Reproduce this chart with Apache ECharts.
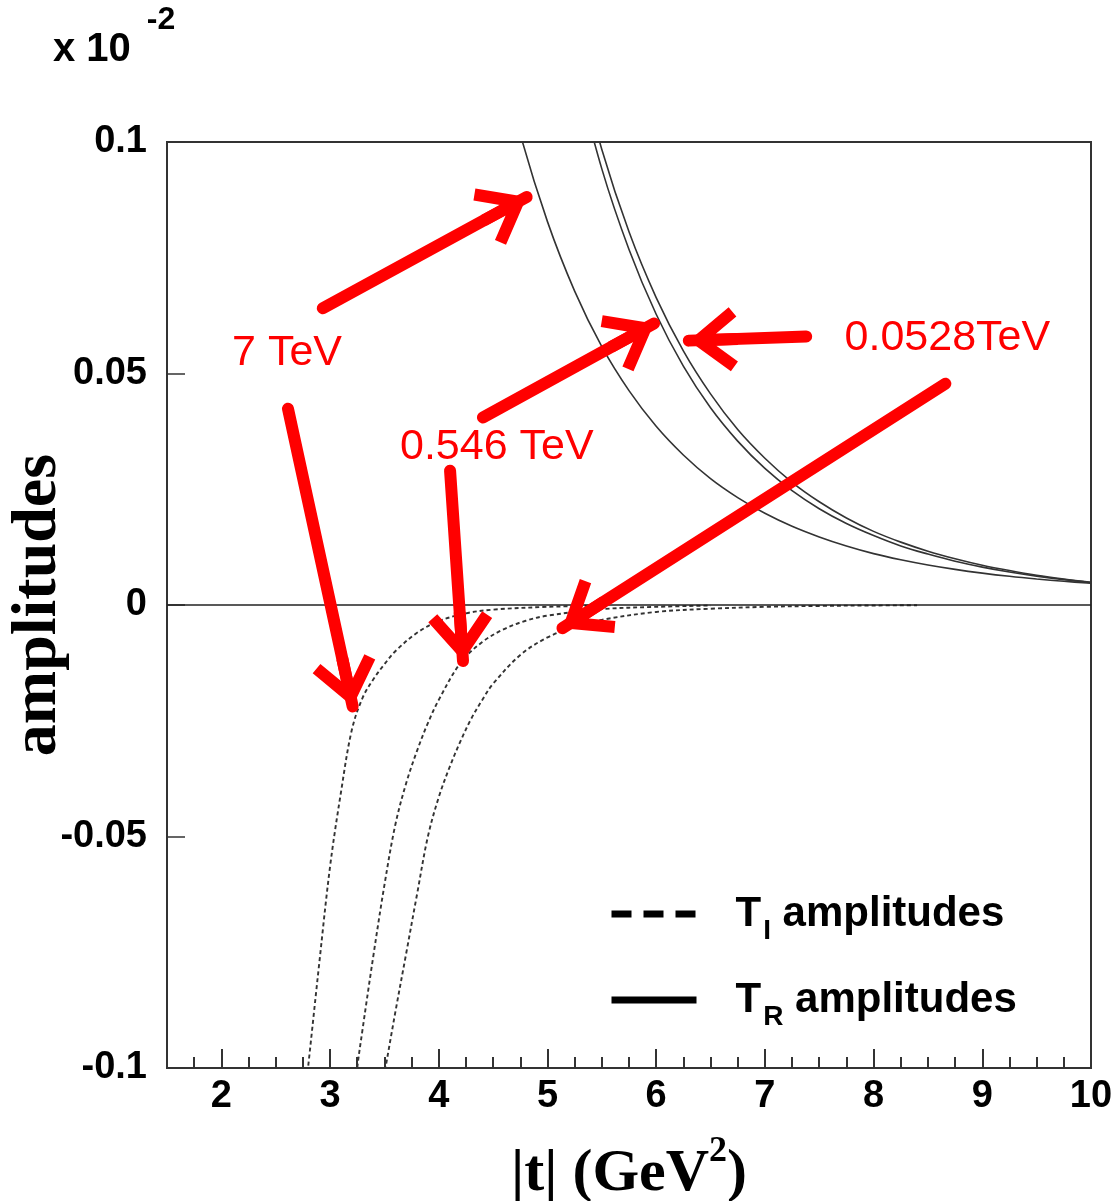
<!DOCTYPE html>
<html><head><meta charset="utf-8">
<script src="https://cdn.jsdelivr.net/npm/echarts@6/dist/echarts.min.js"></script>
<style>html,body{margin:0;padding:0;background:#fff}#c{width:1120px;height:1201px}</style>
</head><body><div id="c"></div>
<script>
// ---- tick labels ----
const xTicks = [2, 3, 4, 5, 6, 7, 8, 9, 10];
const yTicks = [-0.1, -0.05, 0, 0.05, 0.1];

// ---- T_R (real) amplitudes, solid ----
const tR7_x    = [4.5, 4.75, 5, 5.25, 5.5, 5.75, 6, 6.25, 6.5, 6.75, 7, 7.25, 7.5, 7.75, 8, 8.25, 8.5, 8.75, 9, 9.25, 9.5, 9.75, 10];
const tR7_y    = [0.1256, 0.1017, 0.0828, 0.0678, 0.0558, 0.0463, 0.0386, 0.0324, 0.0273, 0.0232, 0.0198, 0.0170, 0.0147, 0.01274, 0.0111, 0.00978, 0.00865, 0.00770, 0.00689, 0.00620, 0.00562, 0.00512, 0.00469];
const tR546_x  = [5.25, 5.5, 5.75, 6, 6.25, 6.5, 6.75, 7, 7.25, 7.5, 7.75, 8, 8.25, 8.5, 8.75, 9, 9.25, 9.5, 9.75, 10];
const tR546_y  = [0.1164, 0.0942, 0.0768, 0.0628, 0.0516, 0.0426, 0.0354, 0.0295, 0.0247, 0.0208, 0.0176, 0.0150, 0.01276, 0.0110, 0.00944, 0.00818, 0.00712, 0.00623, 0.00548, 0.00484];
const tR0528_x = [5.25, 5.5, 5.75, 6, 6.25, 6.5, 6.75, 7, 7.25, 7.5, 7.75, 8, 8.25, 8.5, 8.75, 9, 9.25, 9.5, 9.75, 10];
const tR0528_y = [0.1204, 0.0984, 0.0806, 0.0664, 0.0549, 0.0456, 0.0379, 0.0317, 0.0265, 0.0223, 0.0188, 0.0159, 0.01358, 0.01163, 0.01001, 0.0086, 0.00744, 0.00642, 0.00559, 0.00488];

// ---- T_I (imaginary) amplitudes, dashed ----
const tI7_x    = [2.75, 2.8, 2.9, 3.0, 3.1, 3.2, 3.3, 3.4, 3.5, 3.6, 3.8, 4.0, 4.25, 4.5, 5.0, 5.5];
const tI7_y    = [-0.110, -0.0994, -0.0775, -0.0565, -0.0405, -0.0270, -0.0200, -0.0160, -0.0128, -0.0100, -0.0060, -0.0035, -0.0018, -0.0010, -0.0004, -0.0001];
const tI546_x  = [3.2, 3.25, 3.3, 3.4, 3.5, 3.6, 3.7, 3.8, 3.9, 4.0, 4.2, 4.4, 4.6, 4.8, 5.0, 5.5, 6.0, 6.5];
const tI546_y  = [-0.112, -0.100, -0.0915, -0.0755, -0.0605, -0.0475, -0.0385, -0.0315, -0.0255, -0.0205, -0.0125, -0.0080, -0.0052, -0.0034, -0.0023, -0.0009, -0.0004, -0.0001];
const tI0528_x = [3.45, 3.5, 3.6, 3.7, 3.8, 3.9, 4.0, 4.1, 4.2, 4.3, 4.4, 4.5, 4.75, 5.0, 5.25, 5.5, 6.0, 6.5, 7.0, 7.5, 8.0, 8.4];
const tI0528_y = [-0.108, -0.1013, -0.088, -0.0753, -0.0625, -0.0500, -0.0415, -0.0350, -0.0294, -0.0245, -0.0205, -0.0170, -0.0108, -0.0070, -0.0047, -0.0032, -0.0015, -0.0008, -0.0004, -0.0002, -0.0001, -0.00005];

// ---- annotations (data coordinates) ----
const annLabels = ['7 TeV', '0.546 TeV', '0.0528TeV'];
const annLabelPos = [[2.604, 0.0545], [4.534, 0.0340], [8.679, 0.0576]];
const arrowFrom = [[2.933, 0.0641], [2.613, 0.0424], [4.406, 0.0405], [4.104, 0.0290], [7.38, 0.0580], [8.66, 0.0478]];
const arrowTo   = [[4.809, 0.0881], [3.208, -0.0219], [5.98, 0.0608], [4.223, -0.0121], [6.30, 0.0571], [5.138, -0.0050]];

const zip = (xs, ys) => xs.map((x, i) => [x, ys[i]]);
const minorX = [];
for (let v = 1.75; v < 10; v += 0.25) { if (Math.abs(v - Math.round(v)) > 1e-6) minorX.push(v); }

const TI = 'T_I amplitudes', TR = 'T_R amplitudes';
const solidStyle = { color: '#333', width: 1.6 };
const dashStyle = { color: '#333', width: 1.9, type: [4, 3] };
const mk = (name, xs, ys, ls) => ({
  type: 'line', name, data: zip(xs, ys), symbol: 'none', showSymbol: false,
  smooth: 0.35, lineStyle: ls, itemStyle: { color: ls.color }, z: 3
});

const chevron = 'path://M32,0 L64,41 L54.5,48.4 L38,27.3 L38,49 L26,49 L26,27.3 L9.5,48.4 L0,41 Z';

const chart = echarts.init(document.getElementById('c'));
chart.setOption({
  animation: false,
  backgroundColor: '#fff',
  textStyle: { fontFamily: 'Liberation Sans' },
  title: {
    text: '{a|x 10}{b|-2}', left: 53, top: 4, padding: 0,
    textStyle: { rich: {
      a: { fontFamily: 'Liberation Sans', fontWeight: 'bold', fontSize: 40, color: '#000' },
      b: { fontFamily: 'Liberation Sans', fontWeight: 'bold', fontSize: 32, color: '#000', padding: [0, 0, 60, 16] }
    } }
  },
  grid: { left: 167, right: 29, top: 142, bottom: 133, outerBoundsMode: 'none', containLabel: false,
    show: true, borderColor: '#333', borderWidth: 2, backgroundColor: 'transparent' },
  legend: {
    orient: 'vertical', left: 608, top: 893, padding: 0, itemWidth: 85, itemHeight: 10, itemGap: 34,
    selectedMode: false,
    data: [
      { name: TI, itemStyle: { opacity: 0 }, lineStyle: { color: '#000', width: 7, type: [20, 12] } },
      { name: TR, itemStyle: { opacity: 0 }, lineStyle: { color: '#000', width: 7, type: 'solid' } }
    ],
    formatter: n => n === TI ? '{g|}{t|T}{s|I}{t| amplitudes}' : '{g|}{t|T}{s|R}{t| amplitudes}',
    textStyle: { rich: {
      g: { width: 34 },
      t: { fontFamily: 'Liberation Sans', fontWeight: 'bold', fontSize: 42, color: '#000' },
      s: { fontFamily: 'Liberation Sans', fontWeight: 'bold', fontSize: 28, color: '#000', padding: [34, 0, 0, 2] }
    } }
  },
  xAxis: [{
    type: 'value', min: 1.5, max: 10, position: 'bottom',
    name: '{n||t| (GeV}{p|2}{n|)}', nameLocation: 'middle', nameGap: 66,
    nameTextStyle: { rich: {
      n: { fontFamily: 'Liberation Serif', fontWeight: 'bold', fontSize: 60, color: '#000' },
      p: { fontFamily: 'Liberation Serif', fontWeight: 'bold', fontSize: 36, color: '#000', padding: [0, 0, 44, 0] }
    } },
    axisLine: { show: true, onZero: false, lineStyle: { color: '#333', width: 2 } },
    axisTick: { show: true, inside: true, length: 19, customValues: xTicks, lineStyle: { color: '#333', width: 2 } },
    axisLabel: { customValues: xTicks, margin: 10, fontFamily: 'Liberation Sans', fontWeight: 'bold', fontSize: 38, color: '#000' },
    splitLine: { show: false }
  }, {
    type: 'value', min: 1.5, max: 10, position: 'bottom',
    axisLine: { show: false, onZero: false },
    axisTick: { show: true, inside: true, length: 11, customValues: minorX, lineStyle: { color: '#333', width: 2 } },
    axisLabel: { show: false },
    splitLine: { show: false }
  }],
  yAxis: {
    type: 'value', min: -0.1, max: 0.1, interval: 0.05,
    name: 'amplitudes', nameLocation: 'middle', nameGap: 97, nameRotate: 90, nameMoveOverlap: false,
    nameTextStyle: { fontFamily: 'Liberation Serif', fontWeight: 'bold', fontSize: 64, color: '#000' },
    axisLine: { show: true, lineStyle: { color: '#333', width: 2 } },
    axisTick: { show: true, inside: true, length: 18, lineStyle: { color: '#333', width: 1.5 } },
    axisLabel: { margin: 20, fontFamily: 'Liberation Sans', fontWeight: 'bold', fontSize: 38, color: '#000',
      formatter: v => String(+v.toFixed(2)) },
    splitLine: { show: false }
  },
  series: [
    mk(TI, tI7_x, tI7_y, dashStyle),
    mk(TI, tI546_x, tI546_y, dashStyle),
    mk(TI, tI0528_x, tI0528_y, dashStyle),
    mk(TR, tR7_x, tR7_y, solidStyle),
    mk(TR, tR546_x, tR546_y, solidStyle),
    mk(TR, tR0528_x, tR0528_y, solidStyle),
    {
      type: 'line', name: 'zero', data: [], z: 2, silent: true,
      markLine: { silent: true, symbol: 'none', label: { show: false },
        lineStyle: { color: '#222', width: 1.6, type: 'solid' },
        data: [{ yAxis: 0 }] }
    },
    {
      type: 'line', name: 'annotations', data: [], z: 10, silent: true,
      markLine: {
        silent: true, symbol: ['none', chevron], symbolSize: [64, 49],
        symbolOffset: [[0, 0], [0, '50%']],
        label: { show: false },
        lineStyle: { color: '#ff0000', width: 12, type: 'solid', cap: 'round', opacity: 1 },
        itemStyle: { color: '#ff0000' },
        emphasis: { disabled: true },
        data: arrowFrom.map((f, i) => [{ coord: f }, { coord: arrowTo[i] }])
      },
      markPoint: {
        silent: true, symbol: 'circle', symbolSize: 1,
        itemStyle: { color: 'rgba(0,0,0,0)' },
        label: { show: true, position: 'inside', formatter: '{b}', color: '#ff0000',
          fontFamily: 'Liberation Sans', fontSize: 43 },
        data: annLabels.map((t, i) => ({ name: t, coord: annLabelPos[i] }))
      }
    }
  ]
});
</script></body></html>
